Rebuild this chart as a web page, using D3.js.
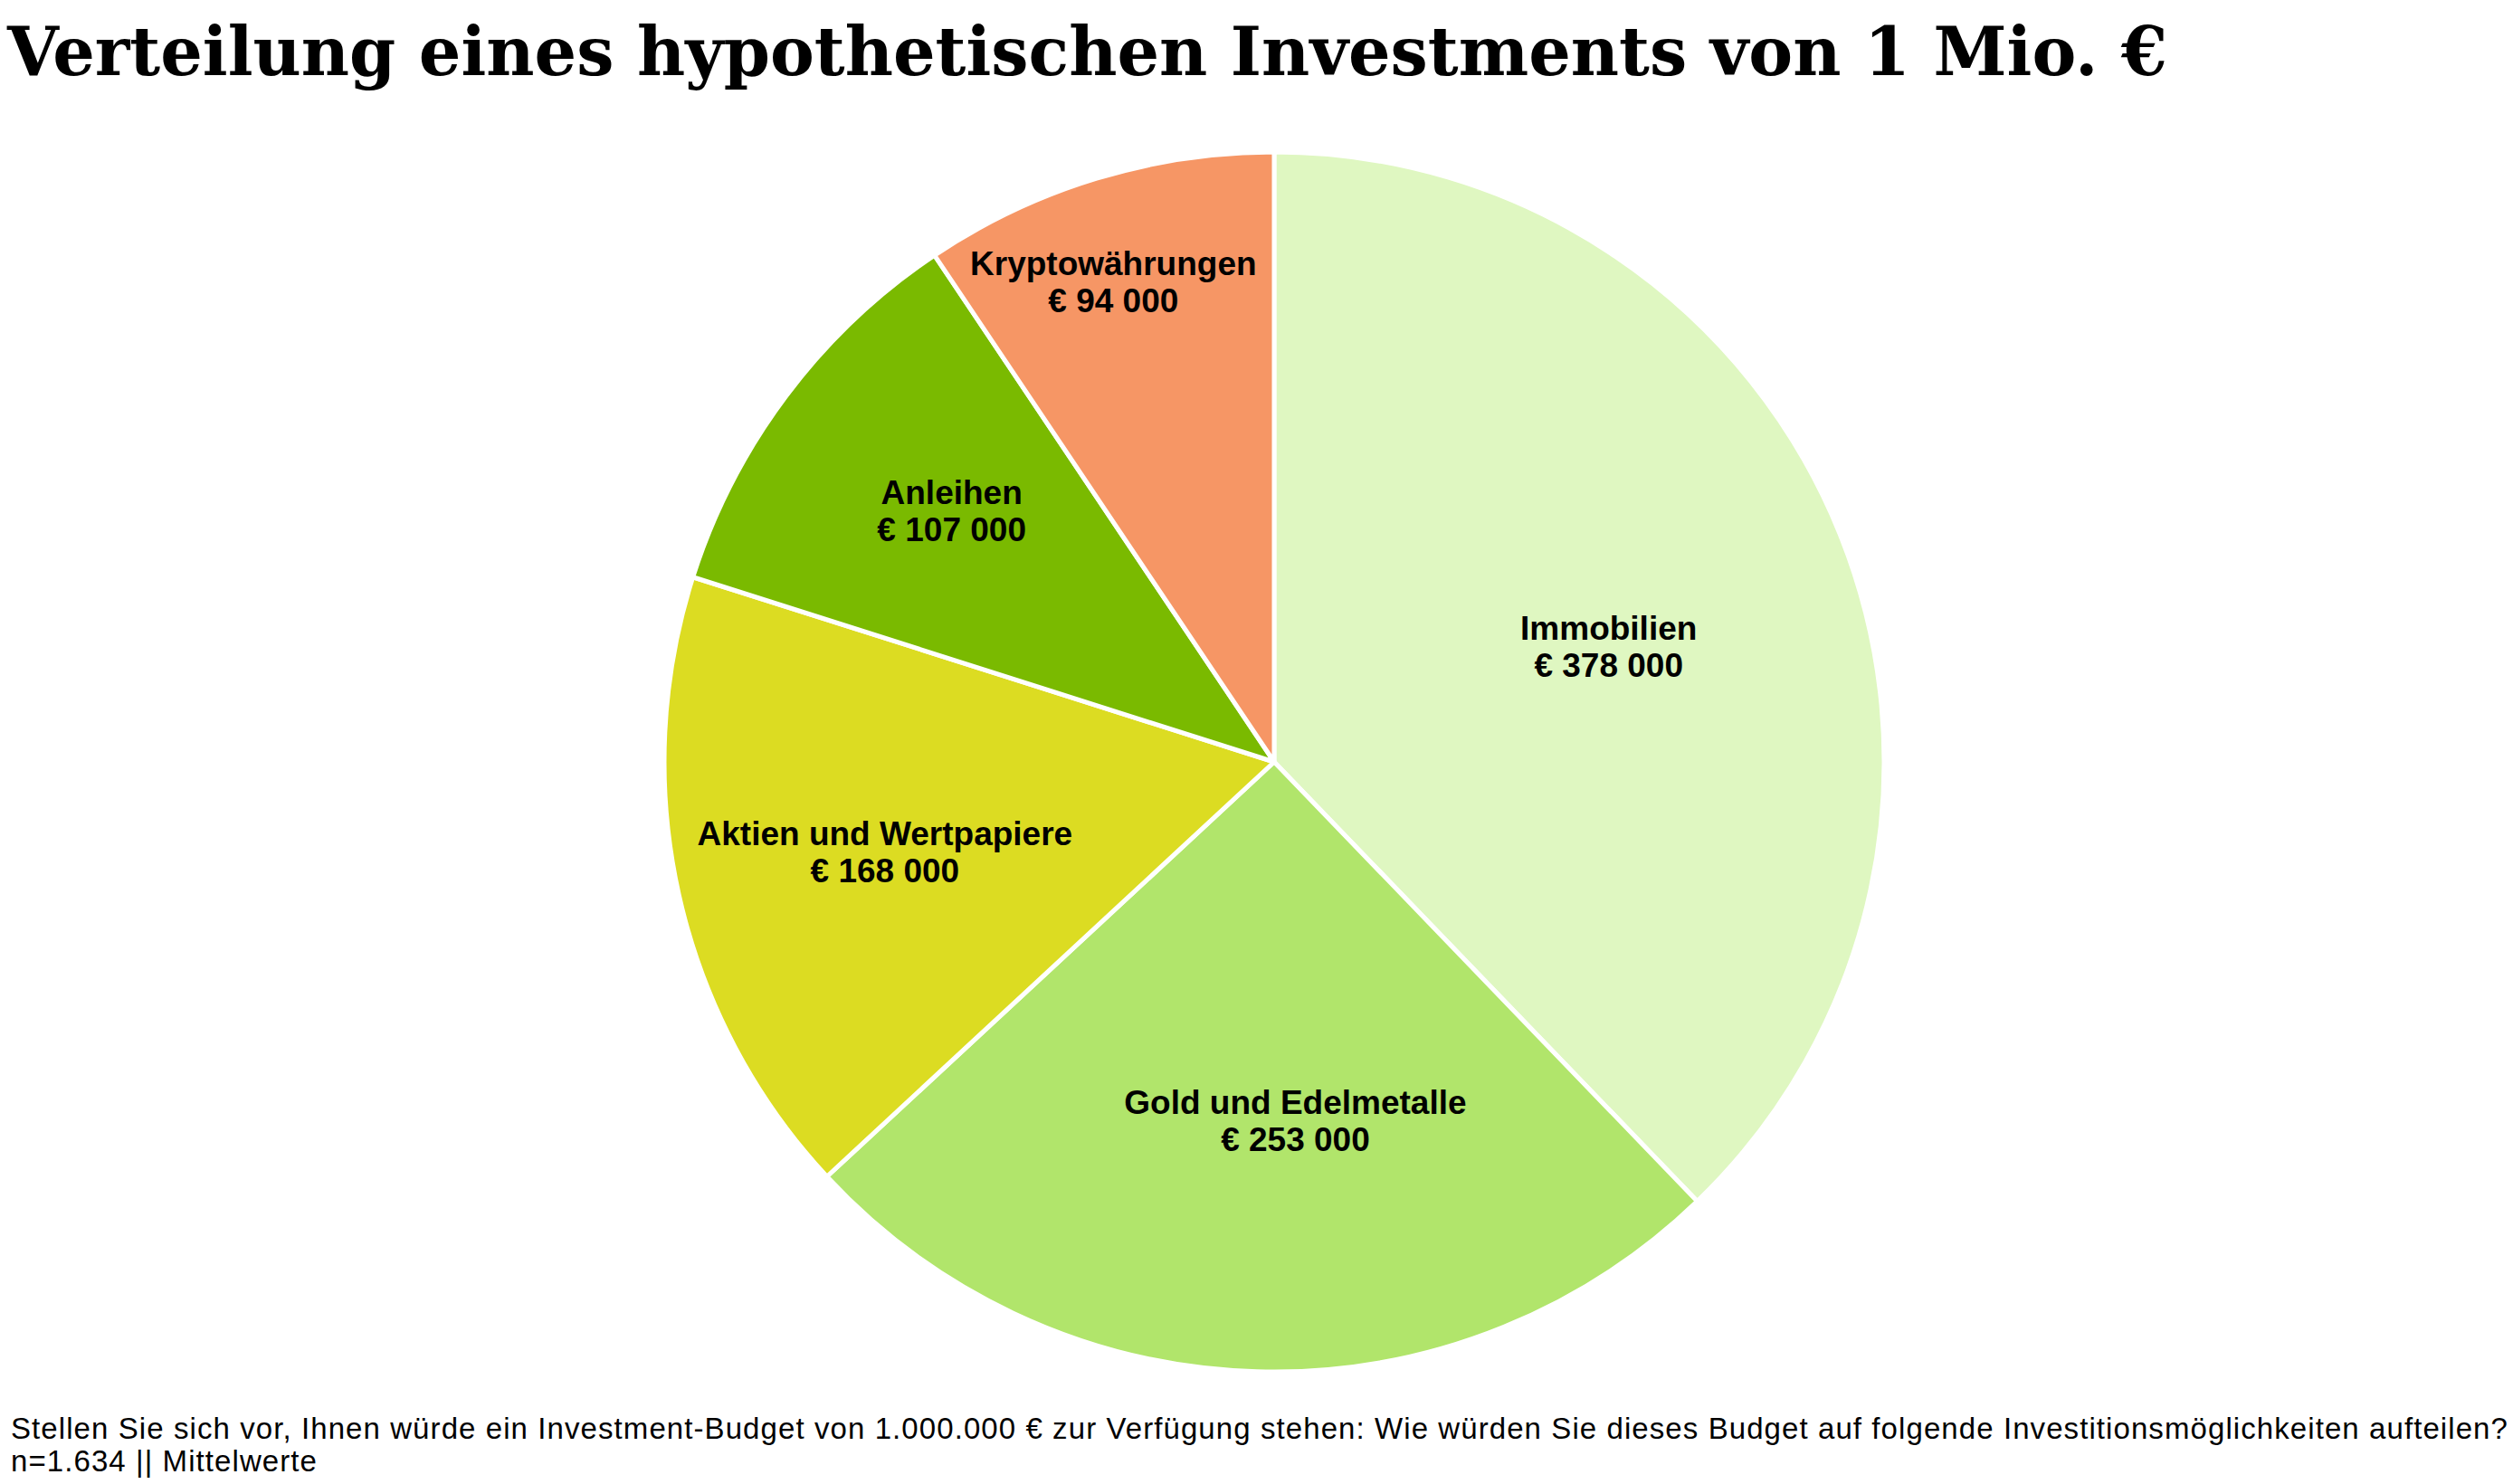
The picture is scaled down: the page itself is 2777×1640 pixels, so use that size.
<!DOCTYPE html>
<html>
<head>
<meta charset="utf-8">
<script src="https://cdn.jsdelivr.net/npm/d3@7"></script>
<style>
    html, body { margin: 0; padding: 0; background: #fff; }
    .title { font-family: Georgia, "DejaVu Serif", serif; font-weight: bold; fill: #000; }
    .slice-label { font-family: Arial, "Liberation Sans", sans-serif; font-weight: bold; font-size: 37px; fill: #000; }
    .footnote { font-family: Arial, "Liberation Sans", sans-serif; font-size: 33px; fill: #000; }
</style>
</head>
<body>
<div class="chart"></div>
<script>
// data
var categories = ["Immobilien", "Gold und Edelmetalle", "Aktien und Wertpapiere", "Anleihen", "Kryptowährungen"];
var values = [378000, 253000, 168000, 107000, 94000];
var colors = ["#dff7c1", "#b1e56b", "#dcdc22", "#7aba00", "#f69665"];

var titleText = "Verteilung eines hypothetischen Investments von 1 Mio. €";
var footLines = [
    "Stellen Sie sich vor, Ihnen würde ein Investment-Budget von 1.000.000 € zur Verfügung stehen: Wie würden Sie dieses Budget auf folgende Investitionsmöglichkeiten aufteilen?",
    "n=1.634 || Mittelwerte"
];

// label placement (Excel "best fit" look): radius fraction and angle nudge in degrees
var labelRadius = [0.58, 0.59, 0.655, 0.67, 0.83];
var labelNudge = [3, -5, -0.4, 1, -1.6];

(function() {
    var width = 2777, height = 1640;
    var cx = 1408, cy = 842, radius = 674;

    var svg = d3.select(".chart").append("svg")
        .attr("width", width)
        .attr("height", height);

    var fmt = d3.formatLocale({decimal: ",", thousands: " ", grouping: [3], currency: ["€ ", ""]}).format("$,");

    var pie = d3.pie().sort(null).value(function(d) { return d.value; });
    var arc = d3.arc().innerRadius(0).outerRadius(radius);

    var data = categories.map(function(c, i) {
        return {name: c, value: values[i], color: colors[i], lr: labelRadius[i], nudge: labelNudge[i]};
    });

    var g = svg.append("g").attr("transform", "translate(" + cx + "," + cy + ")");

    var arcs = pie(data);

    g.selectAll("path.slice")
        .data(arcs)
        .enter()
        .append("path")
            .classed("slice", true)
            .attr("d", arc)
            .style("fill", function(d) { return d.data.color; })
            .style("stroke", "#fff")
            .style("stroke-width", 5)
            .style("stroke-linejoin", "round");

    var labels = g.selectAll("text.slice-label")
        .data(arcs)
        .enter()
        .append("text")
            .classed("slice-label", true)
            .attr("text-anchor", "middle")
            .attr("transform", function(d) {
                var a = (d.startAngle + d.endAngle) / 2 + d.data.nudge * Math.PI / 180;
                var r = radius * d.data.lr;
                return "translate(" + (Math.sin(a) * r) + "," + (-Math.cos(a) * r) + ")";
            });

    labels.append("tspan")
        .attr("x", 0)
        .attr("y", -7.5)
        .text(function(d) { return d.data.name; });

    labels.append("tspan")
        .attr("x", 0)
        .attr("y", 33.5)
        .text(function(d) { return fmt(d.data.value); });

    // title
    svg.append("text")
        .classed("title", true)
        .attr("x", 8)
        .attr("y", 83)
        .style("font-size", "75px")
        .attr("textLength", 2387)
        .attr("lengthAdjust", "spacingAndGlyphs")
        .text(titleText);

    // footnote, first line spread to the page width
    var foot = svg.append("g").classed("footnote-group", true);
    foot.selectAll("text")
        .data(footLines)
        .enter()
        .append("text")
            .classed("footnote", true)
            .attr("x", 12)
            .attr("y", function(d, i) { return 1590 + i * 36; })
            .text(function(d) { return d; });

    var first = foot.select("text").node();
    var w = first.getComputedTextLength();
    var ls = (2760 - w) / footLines[0].length;
    foot.selectAll("text").style("letter-spacing", ls + "px");
})();
</script>
</body>
</html>
